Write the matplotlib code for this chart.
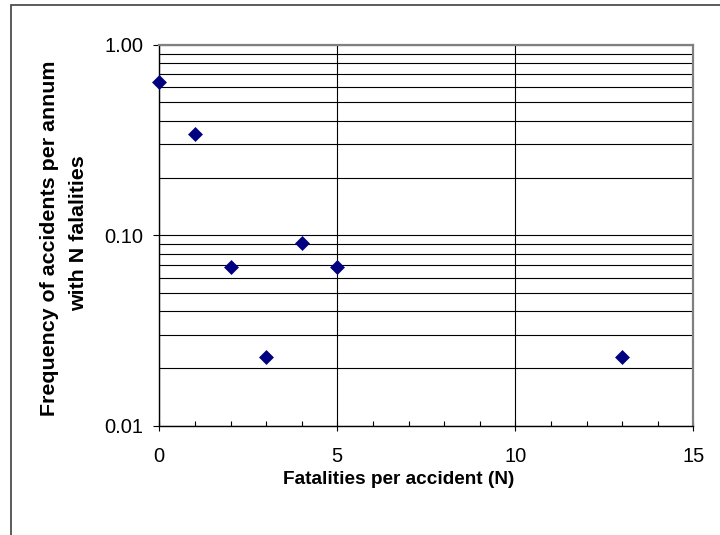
import matplotlib
matplotlib.use("Agg")
import matplotlib.pyplot as plt
from matplotlib.ticker import FixedLocator, NullFormatter, LogLocator
from matplotlib.patches import Rectangle

# Data
fatalities = [0, 1, 2, 3, 4, 5, 13]
frequency = [0.636, 0.341, 0.068, 0.023, 0.091, 0.068, 0.023]
y_ticks = [0.01, 0.10, 1.00]
y_tick_labels = ["0.01", "0.10", "1.00"]
x_ticks = [0, 5, 10, 15]
x_label = "Fatalities per accident (N)"
y_label_lines = ["Frequency of accidents per annum", "with N falalities"]

plt.rcParams['font.family'] = ['Liberation Sans', 'DejaVu Sans']

W, H = 720, 535
fig = plt.figure(figsize=(W / 100, H / 100), dpi=100)
left, right, top, bottom = 159.3, 693.3, 44.9, 425.7
ax = fig.add_axes([left / W, 1 - bottom / H, (right - left) / W, (bottom - top) / H])

ax.set_yscale('log')
ax.set_xlim(0, 15)
ax.set_ylim(0.01, 1.0)

# Grid lines
ax.yaxis.set_major_locator(FixedLocator(y_ticks))
ax.yaxis.set_minor_locator(LogLocator(base=10, subs=range(2, 10)))
ax.yaxis.set_minor_formatter(NullFormatter())
ax.set_yticklabels(y_tick_labels)
ax.xaxis.set_major_locator(FixedLocator(x_ticks))
ax.xaxis.set_minor_locator(FixedLocator(range(0, 16)))

ax.grid(True, which='major', axis='both', color='black', linewidth=0.8)
ax.grid(True, which='minor', axis='y', color='black', linewidth=0.8)
ax.set_axisbelow(True)

ax.scatter(fatalities, frequency, marker='D', s=7.6 ** 2, color='#000080',
           zorder=5, clip_on=False, linewidths=0)

for s in ['left', 'bottom']:
    ax.spines[s].set_color('black')
    ax.spines[s].set_linewidth(1.0)
for s in ['top', 'right']:
    ax.spines[s].set_color('#808080')
    ax.spines[s].set_linewidth(1.6)

ax.tick_params(axis='x', which='major', direction='inout', length=7, width=0.8,
               pad=12, labelsize=14.5)
ax.tick_params(axis='x', which='minor', direction='in', length=3.5, width=0.8)
ax.tick_params(axis='y', which='major', direction='out', length=4.5, width=0.8,
               pad=7, labelsize=14.5)
ax.tick_params(axis='y', which='minor', length=0)

fig.text(398.8 / W, 1 - 479.5 / H, x_label, ha='center', va='center',
         fontsize=13.7, fontweight='bold')
fig.text(50 / W, 1 - 238 / H, y_label_lines[0], ha='center', va='center',
         rotation=90, fontsize=15.4, fontweight='bold')
fig.text(79 / W, 1 - 233.5 / H, y_label_lines[1], ha='center', va='center',
         rotation=90, fontsize=15.4, fontweight='bold')

# Outer chart border
fig.patches.append(Rectangle((11 / W, -0.05), 1.0, 1 - 5 / H + 0.05,
                             transform=fig.transFigure, fill=False,
                             edgecolor='#404040', linewidth=1.2))

fig.savefig('out.png', dpi=100)
